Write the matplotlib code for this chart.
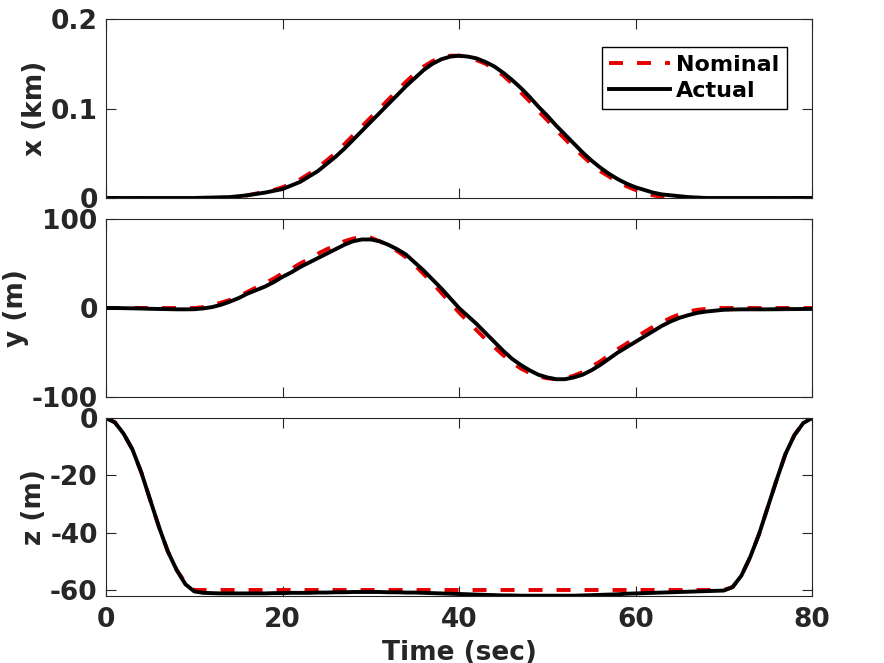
import numpy as np
import matplotlib
matplotlib.use("Agg")
from matplotlib import pyplot as plt

# time axis (s), one sample per second
t = np.arange(0, 81)

# x position (km)
x_nom = [0, 0, 0, 0, -0.0005, -0.0008, -0.001, -0.0015, -0.002, -0.002,
         -0.002, -0.002, -0.0015, -0.001, 0, 0.0015, 0.003, 0.005, 0.007, 0.009,
         0.012, 0.016, 0.021, 0.027, 0.034, 0.042, 0.050, 0.060, 0.070, 0.080,
         0.090, 0.100, 0.110, 0.120, 0.130, 0.139, 0.147, 0.153, 0.157, 0.159,
         0.159, 0.157, 0.154, 0.150, 0.144, 0.137, 0.128, 0.118, 0.108, 0.097,
         0.087, 0.076, 0.066, 0.056, 0.047, 0.038, 0.030, 0.024, 0.018, 0.013,
         0.009, 0.006, 0.003, 0.0015, 0, -0.001, -0.0015, -0.002, -0.002, -0.002,
         -0.002, -0.002, -0.0015, -0.001, -0.001, -0.0005, -0.0005, 0, 0, 0,
         0]
x_act = [0, 0, 0, 0, 0, 0, 0, 0, 0, 0,
         0, 0.0003, 0.0005, 0.0008, 0.001, 0.002, 0.003, 0.0045, 0.006, 0.008,
         0.010, 0.014, 0.018, 0.024, 0.030, 0.038, 0.046, 0.055, 0.065, 0.075,
         0.085, 0.095, 0.105, 0.115, 0.125, 0.134, 0.143, 0.150, 0.155, 0.158,
         0.159, 0.158, 0.156, 0.152, 0.147, 0.140, 0.132, 0.123, 0.113, 0.102,
         0.092, 0.081, 0.071, 0.061, 0.051, 0.042, 0.034, 0.027, 0.021, 0.016,
         0.012, 0.009, 0.006, 0.004, 0.003, 0.002, 0.001, 0.0005, 0, 0,
         0, 0, 0, 0, 0, 0, 0, 0, 0, 0,
         0]

# y position (m)
y_nom = [0, 0, 0, 0, 0, 0, 0, 0, 0, 0,
         0, 1, 3, 6, 9, 13, 18, 23, 28, 33,
         39, 44, 50, 55, 61, 66, 70, 75, 78, 80,
         79, 75, 70, 64, 57, 48, 38, 28, 17, 6,
         -5, -15, -25, -35, -44, -53, -61, -68, -73, -77,
         -79, -80, -79, -76, -72, -66, -60, -53, -46, -40,
         -33, -27, -21, -16, -11, -7, -4, -2, -1, 0,
         0, 0, 0, 0, 0, 0, 0, 0, 0, 0,
         0]
y_act = [0, 0, -0.2, -0.4, -0.6, -0.9, -1.1, -1.3, -1.5, -1.5,
         -1.4, -0.5, 1, 3.5, 7, 11, 16, 20, 24, 29,
         35, 40, 46, 51, 56, 61, 66, 71, 75, 77,
         77, 75, 71, 66, 60, 51, 42, 32, 22, 11,
         0, -9, -18, -28, -38, -48, -57, -64, -70, -75,
         -78, -80, -80, -78, -75, -70, -64, -57, -50, -44,
         -38, -32, -26, -20, -15, -11, -8, -5.5, -4, -3,
         -2, -1.7, -1.5, -1.5, -1.5, -1.5, -1.4, -1.3, -1.2, -1.1,
         -1]

# z position (m)
z_nom = [0, -1.5, -5.5, -11, -19, -28.5, -38, -46.5, -53, -57.5,
         -60, -60, -60, -60, -60, -60, -60, -60, -60, -60,
         -60, -60, -60, -60, -60, -60, -60, -60, -60, -60,
         -60, -60, -60, -60, -60, -60, -60, -60, -60, -60,
         -60, -60, -60, -60, -60, -60, -60, -60, -60, -60,
         -60, -60, -60, -60, -60, -60, -60, -60, -60, -60,
         -60, -60, -60, -60, -60, -60, -60, -60, -60, -60,
         -60, -59, -55, -48.5, -40.5, -31, -21.5, -12.5, -6, -1.8,
         0]
z_act = [0, -1.5, -5.5, -11, -19, -28.5, -38, -46.5, -53, -58,
         -60.5, -61, -61.1, -61.2, -61.2, -61.2, -61.2, -61.2, -61.2, -61.1,
         -61.1, -61.0, -61.0, -61.0, -60.9, -60.9, -60.8, -60.8, -60.7, -60.7,
         -60.7, -60.7, -60.8, -60.8, -60.9, -60.9, -61.0, -61.1, -61.2, -61.3,
         -61.4, -61.5, -61.6, -61.7, -61.8, -61.9, -61.9, -62.0, -62.0, -62.0,
         -62.0, -62.0, -62.0, -62.0, -61.9, -61.8, -61.7, -61.6, -61.5, -61.3,
         -61.2, -61.1, -61.0, -60.9, -60.8, -60.7, -60.6, -60.5, -60.4, -60.3,
         -60.2, -59, -55, -48.5, -40.5, -31, -21.5, -12.5, -6, -1.8,
         0]

ylabels = ["x (km)", "y (m)", "z (m)"]
ylims = [(0, 0.2), (-100, 100), (-62.1, 0)]
yticks = [[0, 0.1, 0.2], [-100, 0, 100], [-60, -40, -20, 0]]
ytlabels = [["0", "0.1", "0.2"], ["-100", "0", "100"], ["-60", "-40", "-20", "0"]]
xticks = [0, 20, 40, 60, 80]

gray = "#262626"
plt.rcParams["font.family"] = "DejaVu Sans"
plt.rcParams["font.weight"] = "bold"

fig = plt.figure(figsize=(8.84, 6.63), dpi=100)
W, H = 884, 663
boxes = [(19, 198), (219, 397), (418, 596)]
series = [(x_nom, x_act), (y_nom, y_act), (z_nom, z_act)]

for i, ((top, bot), (nom, act)) in enumerate(zip(boxes, series)):
    ax = fig.add_axes([106 / W, 1 - bot / H, 706 / W, (bot - top) / H])
    ax.plot(t, nom, color="#e60000", lw=2.8, ls=(0, (3.6, 3.6)), label="Nominal")
    ax.plot(t, act, color="black", lw=2.8, label="Actual")
    ax.set_xlim(0, 80)
    ax.set_ylim(*ylims[i])
    ax.set_yticks(yticks[i])
    ax.set_yticklabels(ytlabels[i])
    ax.set_xticks(xticks)
    ax.tick_params(direction="in", length=7, width=0.8, colors=gray,
                   labelsize=19, top=True, right=True, pad=6)
    for lab in ax.get_xticklabels() + ax.get_yticklabels():
        lab.set_fontweight("bold")
    for sp in ax.spines.values():
        sp.set_color(gray)
        sp.set_linewidth(0.8)
    ax.set_ylabel(ylabels[i], fontsize=19, fontweight="bold", color=gray, labelpad=2)
    if i < 2:
        ax.tick_params(labelbottom=False)
    else:
        ax.tick_params(axis="x", pad=8)
        ax.set_xlabel("Time (sec)", fontsize=19, fontweight="bold", color=gray, labelpad=5)
    if i == 0:
        leg = ax.legend(loc="upper right", bbox_to_anchor=(0.9646, 0.8436),
                        borderaxespad=0, fancybox=False, framealpha=1,
                        edgecolor="black", handlelength=2.75, handletextpad=0.25,
                        borderpad=0.35, labelspacing=0.28,
                        prop={"size": 16, "weight": "bold"})
        leg.get_frame().set_linewidth(1.0)

fig.savefig("out.png", dpi=100)
